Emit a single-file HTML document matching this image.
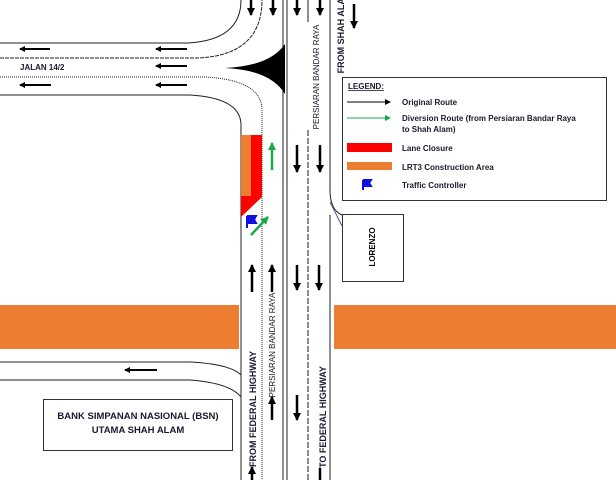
<!DOCTYPE html>
<html><head><meta charset="utf-8"><style>
html,body{margin:0;padding:0;background:#fff;}
svg{display:block;font-family:"Liberation Sans",sans-serif;}
</style></head><body>
<svg width="616" height="480" viewBox="0 0 616 480" xmlns="http://www.w3.org/2000/svg">
<defs>
<marker id="ah" markerWidth="6" markerHeight="6" refX="5" refY="3" orient="auto" markerUnits="userSpaceOnUse"><path d="M0,0 L6,3 L0,6 Z" fill="#000"/></marker>
<marker id="ahs" markerWidth="8" markerHeight="8" refX="7" refY="4" orient="auto" markerUnits="userSpaceOnUse"><path d="M0,0 L8,4 L0,8 Z" fill="#000"/></marker>
<marker id="ag" markerWidth="8" markerHeight="8" refX="7" refY="4" orient="auto" markerUnits="userSpaceOnUse"><path d="M0,0 L8,4 L0,8 Z" fill="#1aa84a"/></marker>
<marker id="agl" markerWidth="6" markerHeight="6" refX="5" refY="3" orient="auto" markerUnits="userSpaceOnUse"><path d="M0,0 L6,3 L0,6 Z" fill="#1aa84a"/></marker>
</defs>
<rect x="0" y="305" width="239" height="44" fill="#ed7d31"/>
<rect x="334" y="305" width="282" height="44" fill="#ed7d31"/>
<g fill="none" stroke="#222" stroke-width="1">
<path d="M0,43 H188 Q241,40 241,0"/>
<path d="M0,58 H198 Q262,55 262,0" stroke-dasharray="4,1"/>
<path d="M0,77 H205 Q262,80 262,110 V480" stroke-dasharray="1,1"/>
<path d="M0,95 H190 Q241,98 241,125 V480"/>
<line x1="283" y1="0" x2="283" y2="480"/>
<line x1="287" y1="0" x2="287" y2="480"/>
<line x1="308" y1="0" x2="308" y2="22"/>
<line x1="308" y1="130" x2="308" y2="480" stroke-dasharray="6,2"/>
<path d="M330,0 V190 Q330,210 342,215"/>
<path d="M330,215 V480"/>
<path d="M330,202 L342,226" stroke="#4a5a8a"/>
<path d="M0,362 H190 Q230,364 241,375"/>
<path d="M0,380 H190 Q230,383 241,397"/>
</g>
<path d="M225,68 Q270,66 285,44 L285,94 Q270,70 225,68 Z" fill="#000"/>
<path d="M241,135 H262 V197 L241,217 Z" fill="#f00"/>
<rect x="241" y="135" width="10" height="61" fill="#ed7d31"/>
<g stroke="#000" stroke-width="2" marker-end="url(#ah)">
<line x1="50" y1="49" x2="20" y2="49"/><line x1="187" y1="49" x2="156" y2="49"/>
<line x1="187" y1="66" x2="156" y2="66"/>
<line x1="51" y1="85" x2="20" y2="85"/><line x1="187" y1="85" x2="156" y2="85"/>
<line x1="157" y1="370" x2="125" y2="370"/>
</g>
<g stroke="#000" stroke-width="2.5" marker-end="url(#ahs)">
<line x1="251" y1="0" x2="251" y2="15"/><line x1="273" y1="0" x2="273" y2="15"/>
<line x1="297" y1="0" x2="297" y2="15"/><line x1="320" y1="0" x2="320" y2="15"/>
<line x1="354" y1="4" x2="354" y2="28"/>
<line x1="297" y1="145" x2="297" y2="172"/><line x1="320" y1="145" x2="320" y2="172"/>
<line x1="297" y1="265" x2="297" y2="290"/><line x1="319" y1="265" x2="319" y2="290"/>
<line x1="297" y1="395" x2="297" y2="420"/>
<line x1="252" y1="292" x2="252" y2="265"/><line x1="272" y1="292" x2="272" y2="265"/>
<line x1="272" y1="420" x2="272" y2="397"/>
<line x1="252" y1="480" x2="252" y2="467"/>
</g>
<line x1="320" y1="468" x2="320" y2="480" stroke="#000" stroke-width="2.5"/>
<g stroke="#1aa84a" stroke-width="2.5" marker-end="url(#ag)">
<line x1="272" y1="170" x2="272" y2="143"/>
<line x1="251" y1="235" x2="268" y2="217"/>
</g>
<path d="M247,216 V228 M247,216 H256 L254,219.5 L256,223 H247" stroke="#1010e0" stroke-width="2" fill="#1010e0"/>
<g font-weight="bold" fill="#1a1a2e">
<text x="20" y="70" font-size="8">JALAN 14/2</text>
<text transform="translate(319,77) rotate(-90)" font-size="8" text-anchor="middle" font-weight="normal">PERSIARAN BANDAR RAYA</text>
<text transform="translate(344,32) rotate(-90)" font-size="9" text-anchor="middle">FROM SHAH ALAM</text>
<text transform="translate(275,345) rotate(-90)" font-size="8" text-anchor="middle" font-weight="normal">PERSIARAN BANDAR RAYA</text>
<text transform="translate(256,409) rotate(-90)" font-size="9" text-anchor="middle">FROM FEDERAL HIGHWAY</text>
<text transform="translate(326,417) rotate(-90)" font-size="9" text-anchor="middle">TO FEDERAL HIGHWAY</text>
</g>
<rect x="43.5" y="399.5" width="189" height="51" fill="#fff" stroke="#333"/>
<text x="138" y="419" font-size="9.5" text-anchor="middle" font-weight="bold" fill="#1a1a2e">BANK SIMPANAN NASIONAL (BSN)</text>
<text x="138" y="433" font-size="9.5" text-anchor="middle" font-weight="bold" fill="#1a1a2e">UTAMA SHAH ALAM</text>
<rect x="342.5" y="214.5" width="61" height="67" fill="#fff" stroke="#333"/>
<text transform="translate(375,247) rotate(-90)" font-size="8" text-anchor="middle" font-weight="bold">LORENZO</text>
<rect x="342.5" y="77.5" width="264" height="123" fill="#fff" stroke="#333"/>
<g font-size="8" font-weight="bold" fill="#1a1a2e">
<text x="348" y="89" text-decoration="underline">LEGEND:</text>
<text x="402" y="105">Original Route</text>
<text x="402" y="121">Diversion Route (from Persiaran Bandar Raya</text>
<text x="402" y="132">to Shah Alam)</text>
<text x="402" y="151">Lane Closure</text>
<text x="402" y="170">LRT3 Construction Area</text>
<text x="402" y="188">Traffic Controller</text>
</g>
<line x1="347" y1="102" x2="390" y2="102" stroke="#000" stroke-width="1" marker-end="url(#ah)"/>
<line x1="347" y1="118" x2="390" y2="118" stroke="#1aa84a" stroke-width="1" marker-end="url(#agl)"/>
<rect x="347" y="143" width="45" height="9" fill="#f00"/>
<rect x="347" y="162" width="45" height="8" fill="#ed7d31"/>
<path d="M363,180 V190 M363,180 H371 L369,183 L371,186 H363" stroke="#1010e0" stroke-width="2" fill="#1010e0"/>
</svg>
</body></html>
